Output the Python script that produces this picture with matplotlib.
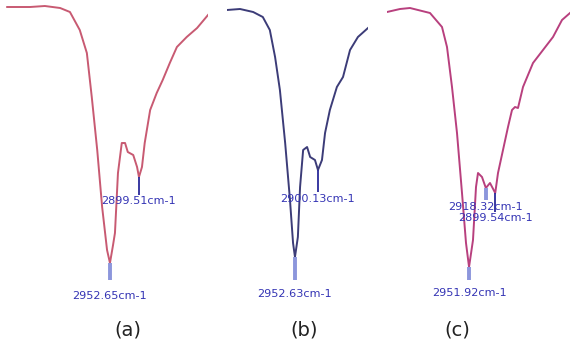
import matplotlib.pyplot as plt

# IR spectra, wavenumber (cm-1) vs transmittance (%T, arbitrary)
wn_a = [3141, 3099, 3072, 3044, 3026, 3008, 2995, 2986, 2976, 2967, 2958, 2952.65,
        2947, 2943.5, 2938, 2931, 2925, 2920, 2910, 2903, 2899.51, 2894, 2889, 2879,
        2867, 2856, 2843, 2830, 2812, 2793, 2773]
t_a = [100, 100, 100.3, 99.7, 98.5, 93.1, 86.2, 73, 57.1, 40, 27.1, 23.2,
       28.6, 32.2, 50.2, 59.2, 59.2, 56.5, 55.6, 52, 49, 52, 59.2, 69.1,
       74.2, 78.1, 83.2, 88, 91, 93.7, 97.6]

wn_b = [3108, 3078, 3048, 3026, 3010, 2998, 2987, 2975, 2964, 2957, 2952.63,
        2946, 2941, 2934, 2925, 2918, 2907, 2900.13, 2891, 2884, 2873, 2857,
        2843, 2827, 2809, 2786]
t_b = [99.1, 99.4, 98.5, 97, 93.1, 85, 75.1, 59.2, 42.1, 29.2, 25,
       31, 46, 57.1, 58, 55, 54.1, 51.1, 54.1, 62.2, 69.1, 76,
       79, 87.1, 91, 93.7]

wn_c = [3116, 3090, 3070, 3030, 3006, 2996, 2986, 2976, 2966, 2958, 2951.92,
        2944, 2938, 2934, 2926, 2918.32, 2910, 2899.54, 2894, 2884, 2874, 2866,
        2860, 2854, 2844, 2824, 2804, 2784, 2766, 2750]
t_c = [98.5, 99.4, 99.7, 98.2, 94, 88, 76, 62.2, 44.2, 29.2, 22,
       30.1, 46, 50.2, 49, 45.7, 47.2, 44.2, 50.2, 57.1, 64, 69.1,
       70, 69.7, 76, 83.2, 87.1, 91, 96.1, 98.2]

# marked peaks: (wavenumber, %T at peak, label)
peaks_a = [(2952.65, 23.2, "2952.65cm-1"), (2899.51, 49, "2899.51cm-1")]
peaks_b = [(2952.63, 25, "2952.63cm-1"), (2900.13, 51.1, "2900.13cm-1")]
peaks_c = [(2951.92, 22, "2951.92cm-1"), (2918.32, 45.7, "2918.32cm-1"),
           (2899.54, 44.2, "2899.54cm-1")]

W, H = 570, 345
fig = plt.figure(figsize=(5.7, 3.45), dpi=100)

# y mapping: %T = 100 - (ypix - 7) * 0.3 ; axes spans ypix 0..280
ylim = (18.1, 102.1)


def px_axes(x0, x1, xlim):
    ax = fig.add_axes([x0 / W, 1 - 280 / H, (x1 - x0) / W, 280 / H])
    ax.set_xlim(*xlim)
    ax.set_ylim(*ylim)
    ax.axis('off')
    return ax


def t_of(ypix):
    return 100 - (ypix - 7) * 0.3


panels = [
    (5, 208, (3145, 2773), wn_a, t_a, '#c85a72', peaks_a,
     [(296, '#8c96dc', 290), (201, '#2a2a9a', 195)], "(a)", 128),
    (227, 368, (3107.7, 2786), wn_b, t_b, '#3c3c78', peaks_b,
     [(294, '#8c96dc', 287), (199, '#2a2a9a', 192)], "(b)", 304),
    (387, 570, (3116, 2750), wn_c, t_c, '#b8407e', peaks_c,
     [(293, '#8c96dc', 290), (207, '#8c96dc', 200), (218, '#2a2a9a', 212)], "(c)", 457),
]

for x0, x1, xl, wn, t, col, peaks, lab, name, nx in panels:
    ax = px_axes(x0, x1, xl)
    ax.plot(wn, t, color=col, lw=1.4)
    for (w, tp, txt), (ly, lc, lend) in zip(peaks, lab):
        lw = 2.8 if lc == '#8c96dc' else 1.3
        ax.plot([w, w], [tp, t_of(lend)], color=lc, lw=lw, solid_capstyle='butt')
        ax.text(w, t_of(ly), txt, color='#3434b4', fontsize=8.1,
                ha='center', va='center')
    fig.text(nx / W, 1 - 330 / H, name, fontsize=14, ha='center', va='center',
             color='#222222')

fig.savefig('out.png', dpi=100)
